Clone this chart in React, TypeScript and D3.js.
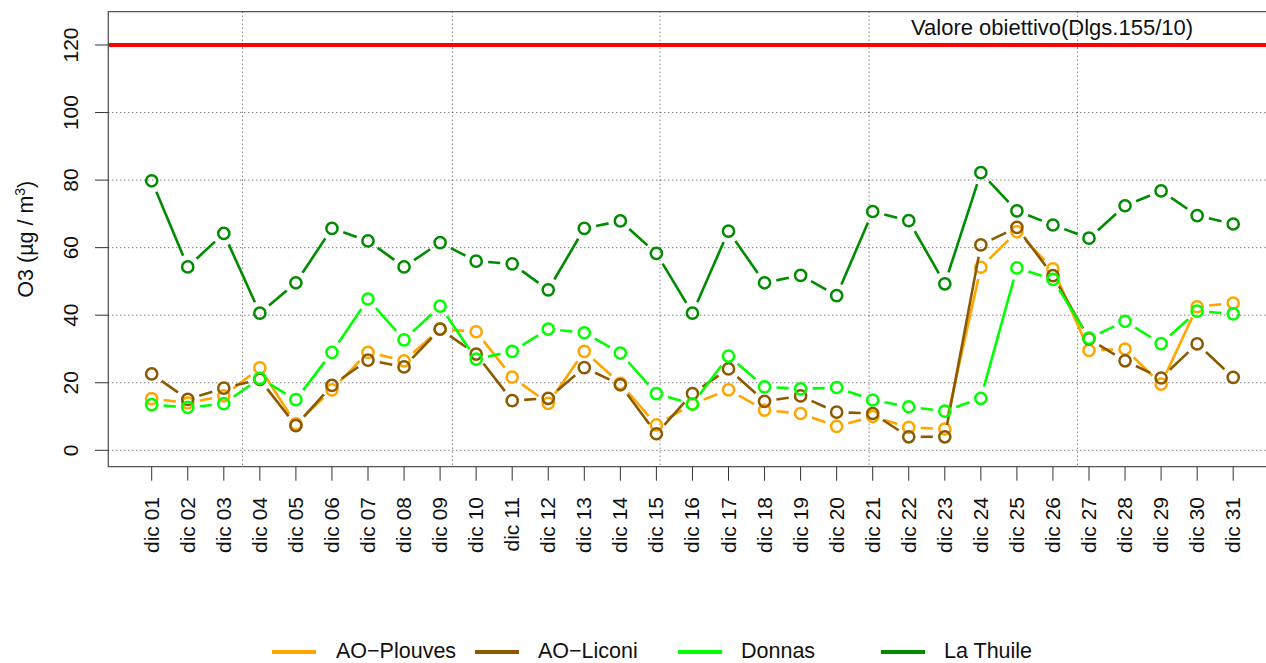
import React from "react";
import * as d3 from "d3";

const days = d3.range(1, 32).map((d) => `dic ${String(d).padStart(2, "0")}`);
const plouves = [15.3, 14.0, 16.1, 24.4, 7.8, 17.9, 29.0, 26.5, 35.9, 35.1, 21.7, 13.9, 29.3, 19.8, 7.5, 13.7, 17.9, 11.9, 10.9, 7.1, 10.0, 6.8, 6.3, 54.2, 64.7, 53.7, 29.6, 30.0, 19.6, 42.5, 43.6];
const liconi = [22.6, 15.1, 18.4, 21.0, 7.3, 19.2, 26.7, 24.7, 35.9, 28.5, 14.7, 15.4, 24.5, 19.4, 4.9, 16.8, 24.1, 14.5, 16.1, 11.3, 10.9, 4.0, 4.0, 60.8, 66.0, 51.7, 33.0, 26.5, 21.4, 31.5, 21.6];
const donnas = [13.5, 12.7, 13.8, 21.3, 15.0, 29.0, 44.8, 32.7, 42.7, 27.0, 29.3, 35.9, 34.8, 28.8, 16.8, 13.7, 27.9, 18.8, 18.2, 18.6, 14.9, 12.9, 11.6, 15.4, 54.0, 50.6, 33.2, 38.2, 31.6, 41.2, 40.4];
const lathuile = [79.8, 54.3, 64.2, 40.6, 49.6, 65.7, 62.0, 54.3, 61.5, 56.0, 55.2, 47.5, 65.7, 67.9, 58.3, 40.6, 64.9, 49.6, 51.8, 45.8, 70.7, 68.0, 49.3, 82.2, 70.9, 66.7, 62.8, 72.4, 76.8, 69.5, 67.0];
const seriesNames = ["AO\u2212Plouves", "AO\u2212Liconi", "Donnas", "La Thuile"];
const seriesColors = ["#FFA500", "#8B5A00", "#00FF00", "#008B00"];
const yTicks = [0, 20, 40, 60, 80, 100, 120];
const yGrid = [0, 20, 40, 60, 80, 100];
const vGrid = [3.52, 9.34, 15.1, 20.9, 26.68];
const limitValue = 120;
const limitLabel = "Valore obiettivo(Dlgs.155/10)";

const W = 1266;
const H = 663;
const FONT = "'Liberation Sans',Arial,Helvetica,sans-serif";
const box = { left: 108.3, top: 11.7, bottom: 466.7 };

export default function App() {
  const x = d3.scaleLinear().domain([1, 31]).range([151.7, 1233.2]);
  const y = d3.scaleLinear().domain([0, 120]).range([450.3, 45]);
  const all = [plouves, liconi, donnas, lathuile];
  const gap = 12;

  const segs = (vals: number[]) => {
    const out: { x1: number; y1: number; x2: number; y2: number }[] = [];
    for (let i = 0; i < vals.length - 1; i++) {
      const ax = x(i + 1), ay = y(vals[i]);
      const bx = x(i + 2), by = y(vals[i + 1]);
      const dx = bx - ax, dy = by - ay;
      const L = Math.hypot(dx, dy);
      if (L <= 2 * gap) continue;
      const ux = dx / L, uy = dy / L;
      out.push({ x1: ax + ux * gap, y1: ay + uy * gap, x2: bx - ux * gap, y2: by - uy * gap });
    }
    return out;
  };

  const legendItems = [
    { lx: 272, tx: 336 },
    { lx: 475, tx: 538 },
    { lx: 678, tx: 741 },
    { lx: 881, tx: 944 },
  ];

  return (
    <svg width={W} height={H} style={{ position: "absolute", left: 0, top: 0, background: "#fff" }} fontFamily={FONT}>
      {/* grid */}
      {yGrid.map((v) => (
        <line key={"hg" + v} x1={box.left} x2={W} y1={y(v)} y2={y(v)} stroke="#444" strokeWidth={1} strokeDasharray="1 3" />
      ))}
      {vGrid.map((d) => (
        <line key={"vg" + d} x1={x(d)} x2={x(d)} y1={box.top} y2={box.bottom} stroke="#444" strokeWidth={1} strokeDasharray="1 3" />
      ))}
      {/* limit line */}
      <line x1={box.left} x2={W} y1={y(limitValue)} y2={y(limitValue)} stroke="#FF0000" strokeWidth={4} />
      <text x={911} y={35} fontSize={22} fill="#111">{limitLabel}</text>
      {/* series */}
      {all.map((vals, si) => (
        <g key={"s" + si}>
          {segs(vals).map((s, i) => (
            <line key={i} x1={s.x1} y1={s.y1} x2={s.x2} y2={s.y2} stroke={seriesColors[si]} strokeWidth={2.6} />
          ))}
          {vals.map((v, i) => (
            <circle key={"c" + i} cx={x(i + 1)} cy={y(v)} r={5.6} fill="none" stroke={seriesColors[si]} strokeWidth={2.5} />
          ))}
        </g>
      ))}
      {/* box */}
      <path d={`M${W + 5},${box.top}H${box.left}V${box.bottom}H${W + 5}`} fill="none" stroke="#555" strokeWidth={1.3} />
      {/* y axis */}
      {yTicks.map((v) => (
        <g key={"yt" + v}>
          <line x1={95} x2={box.left} y1={y(v)} y2={y(v)} stroke="#333" strokeWidth={1} />
          <text transform={`translate(78,${y(v)}) rotate(-90)`} textAnchor="middle" fontSize={21} fill="#111">{v}</text>
        </g>
      ))}
      <text transform={`translate(33,${(box.top + box.bottom) / 2}) rotate(-90)`} textAnchor="middle" fontSize={21.5} fill="#111">
        O3 (µg / m<tspan dy={-8} fontSize={14}>3</tspan><tspan dy={8}>)</tspan>
      </text>
      {/* x axis */}
      {days.map((d, i) => (
        <g key={"xt" + i}>
          <line x1={x(i + 1)} x2={x(i + 1)} y1={box.bottom} y2={480.7} stroke="#333" strokeWidth={1} />
          <text transform={`translate(${x(i + 1) + 7},497) rotate(-90)`} textAnchor="end" fontSize={21} fill="#111">{d}</text>
        </g>
      ))}
      {/* legend */}
      {legendItems.map((it, i) => (
        <g key={"lg" + i}>
          <line x1={it.lx} x2={it.lx + 44} y1={652} y2={652} stroke={seriesColors[i]} strokeWidth={4} />
          <text x={it.tx} y={658} fontSize={21.5} fill="#111">{seriesNames[i]}</text>
        </g>
      ))}
    </svg>
  );
}
